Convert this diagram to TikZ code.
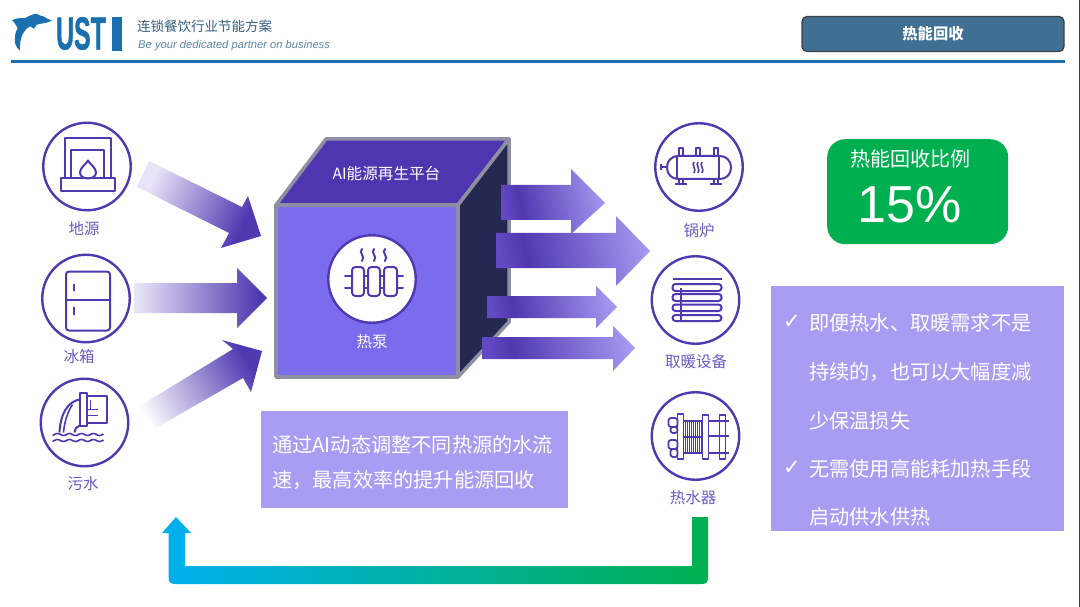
\documentclass[tikz,border=0pt]{standalone}
\usepackage{fontspec}
\setmainfont{Noto Sans CJK SC}
\newfontfamily\latinfont{Liberation Sans}
\newfontfamily\logofont[FakeBold=1.5]{Liberation Sans Bold}
\newfontfamily\symfont{DejaVu Sans}
\usepackage{xcolor}
\usetikzlibrary{calc}
\definecolor{ustblue}{HTML}{1A70AE}
\definecolor{ustslate}{HTML}{3F7094}
\definecolor{cubegray}{HTML}{8E8FA3}
\definecolor{cubetop}{HTML}{5035B0}
\definecolor{cubeside}{HTML}{252850}
\definecolor{cubefront}{HTML}{7B6CEE}
\definecolor{cP}{HTML}{4F38B0}
\definecolor{cLab}{HTML}{6B5BC8}
\definecolor{cBox}{HTML}{A99CF3}
\definecolor{cGreen}{HTML}{00B050}
\definecolor{cSky}{HTML}{00B0F0}
\definecolor{cPale}{HTML}{E8E4F8}
\definecolor{cOutA}{HTML}{6349C2}
\pgfdeclarehorizontalshading{inramp}{100bp}{color(0bp)=(cPale); color(26bp)=(cPale); color(72bp)=(cP); color(100bp)=(cP)}
\pgfdeclarehorizontalshading{inrampw}{100bp}{color(0bp)=(white); color(20bp)=(white); color(74bp)=(cP); color(100bp)=(cP)}
\pgfdeclarehorizontalshading{outramp}{100bp}{color(0bp)=(cOutA); color(24bp)=(cOutA); color(33bp)=(cP); color(78bp)=(cBox); color(100bp)=(cBox)}
\tikzset{
  iconring/.style={circle, draw=cP, line width=2.4pt, fill=white, minimum size=87.5pt, inner sep=0pt},
  iconline/.style={draw=cP, line width=2pt, line join=round},
  iconlab/.style={text=cLab, inner sep=0pt, font=\fontsize{15.5}{18}\selectfont},
  bodytext/.style={text=white, inner sep=0pt, anchor=west, font=\fontsize{20.2}{24}\selectfont},
  panel/.style={fill=cBox, draw=none, inner sep=0pt, anchor=north west}
}
\begin{document}
\begin{tikzpicture}[x=1pt, y=-1pt]
  \useasboundingbox (0,0) rectangle (1080,607);
  \fill[white] (0,0) rectangle (1080,607);
  \draw[black!75, line width=1pt] (1079.5,0) -- (1079.5,607);
  % header
  \fill[ustblue] (12.3,20.3) .. controls (16,17.5) and (21,18.5) .. (25,18) .. controls (29,16) and (33,14) .. (36.7,13.7)
    .. controls (38,14.5) and (39,15.5) .. (43.3,16.3) .. controls (46,18) and (49,19.5) .. (51.7,20.7)
    .. controls (49,22) and (47,22.5) .. (45,23) .. controls (42,23.5) and (39,24) .. (36.7,24.7)
    -- (34,28.7) -- (30,26.3) .. controls (27,28) and (25,30) .. (23.3,33) .. controls (21,36) and (19.5,44) .. (20,50.7)
    .. controls (16,47) and (14,43) .. (15,38) .. controls (15,34) and (16,31) .. (17.7,28) .. controls (16,25) and (14,22) .. (12.3,20.3) -- cycle;
  \node[text=ustblue, inner sep=0pt, anchor=center, font=\logofont\fontsize{46}{46}\selectfont] (logo) at (81,33.5) {\scalebox{.54}[1]{UST}};
  \fill[ustblue] (112,17) rectangle (122,51);
  \node[text=ustslate!85!black, inner sep=0pt, anchor=west, font=\fontsize{13.5}{16}\selectfont] (slogancn) at (137,26) {连锁餐饮行业节能方案};
  \node[text=ustslate!85, inner sep=0pt, anchor=west, font=\latinfont\itshape\fontsize{11.2}{13}\selectfont] (sloganen) at (138,45.5) {Be your dedicated partner on business};
  \fill[ustblue] (11,60) rectangle (1065,63);
  \draw[fill=ustslate, draw=black!75, line width=1.3pt, rounded corners=5pt] (802,16.5) rectangle (1064,51.5);
  \node[text=white, inner sep=0pt, font=\bfseries\fontsize{15.3}{18}\selectfont] (title) at (933,34) {热能回收};

  % arrows into the cube
  \shade[shading=inramp, shading angle=-26]
    (149,161) -- (242,207) -- (248,196) -- (261,236) -- (221,248) -- (229,233) -- (137,187) -- cycle;
  \shade[shading=inramp]
    (134,283) -- (237,283) -- (237,268) -- (267,298) -- (237,328) -- (237,313) -- (134,313) -- cycle;
  \shade[shading=inrampw, shading angle=30]
    (140,406) -- (233,349) -- (222,340) -- (262,351) -- (251,392) -- (243,378) -- (154,429) -- cycle;

  % cube
  \draw[fill=cubetop, draw=cubegray, line width=3.5pt, line join=round] (276,205) -- (326,139) -- (509,139) -- (458,205) -- cycle;
  \draw[fill=cubeside, draw=cubegray, line width=3.5pt, line join=round] (458,205) -- (509,139) -- (509,322) -- (458,377) -- cycle;
  \draw[fill=cubefront, draw=cubegray, line width=3.5pt, line join=round] (276,205) rectangle (458,377);
  \node[text=white, inner sep=0pt, font=\fontsize{15.6}{18}\selectfont] (platform) at (386.5,174) {AI能源再生平台};
  \node[iconring] (pump) at (372,279) {};
  \node[text=white, inner sep=0pt, font=\fontsize{15.5}{18}\selectfont] (pumplab) at (372,342) {热泵};
  \begin{scope}[shift={(pump.center)}]
    \foreach \xa/\xb in {-20/-8, -4/8, 12/25}
      \draw[iconline, rounded corners=3.5pt] (\xa,-12) rectangle (\xb,17);
    \foreach \yy in {-3, 9}{
      \draw[iconline, line cap=round] (-27,\yy) -- (-20,\yy);
      \draw[iconline] (-8,\yy) -- (-4,\yy);
      \draw[iconline] (8,\yy) -- (12,\yy);
      \draw[iconline, line cap=round] (25,\yy) -- (31,\yy);
    }
    \foreach \xx in {-10, 2, 13}
      \draw[iconline, line cap=round] (\xx,-30) .. controls (\xx-4,-26) and (\xx+4,-23) .. (\xx,-18);
  \end{scope}

  % arrows out of the cube
  \foreach \xa/\xb/\xc/\ya/\yb/\yc/\yd/\ye in {
      501/571/605/169/185/220/234/203,
      496/616/650/216/233/268/286/251,
      487/596/617/286/296/318/328/307,
      482/613/635/326/337/359/371/348}{
    \shade[shading=outramp, shading angle=12]
      (\xa,\yb) -- (\xb,\yb) -- (\xb,\ya) -- (\xc,\ye) -- (\xb,\yd) -- (\xb,\yc) -- (\xa,\yc) -- cycle;
  }

  % source and sink rings
  \node[iconring] (geo) at (87,166.5) {};
  \node[iconring] (fridge) at (86,298.5) {};
  \node[iconring] (sewage) at (84.5,422.5) {};
  \node[iconring] (boiler) at (699,167) {};
  \node[iconring] (heater) at (695.5,300) {};
  \node[iconring] (exchanger) at (695.5,436) {};
  \foreach \nm/\xx/\yy/\lab in {geolab/84/229/地源, fridgelab/79/357/冰箱, sewagelab/83/484/污水,
      boilerlab/699/231/锅炉, heaterlab/696/362/取暖设备, exchangerlab/693/498/热水器}
    \node[iconlab] (\nm) at (\xx,\yy) {\lab};

  \begin{scope}[shift={(geo.center)}]
    \draw[iconline] (-22,12) -- (-22,-28) -- (24,-28) -- (24,12);
    \draw[iconline] (-16,12) -- (-16,-16) -- (17,-16) -- (17,12);
    \draw[iconline] (-26,12) rectangle (28,25);
    \draw[iconline] (1,-6) .. controls (3,-2) and (9,1) .. (9,6) .. controls (9,10) and (5,12) .. (1,12)
      .. controls (-3,12) and (-7,10) .. (-7,6) .. controls (-7,1) and (-1,-2) .. (1,-6) -- cycle;
  \end{scope}
  \begin{scope}[shift={(fridge.center)}]
    \draw[iconline, rounded corners=3pt] (-20,-27) rectangle (24,32);
    \draw[iconline] (-20,1) -- (24,1);
    \draw[iconline, line cap=round] (-12,-14) -- (-12,-8);
    \draw[iconline, line cap=round] (-12,9) -- (-12,16);
  \end{scope}
  \begin{scope}[shift={(sewage.center)}]
    \draw[iconline] (2,-27) rectangle (22,0);
    \draw[iconline, fill=white] (-5,-30) rectangle (2,3);
    \draw[iconline, line width=1.6pt] (2,-13) -- (13,-13);
    \draw[iconline, line width=1.6pt] (2,-7) -- (13,-7);
    \draw[iconline, line width=1.6pt] (6,-23) -- (6,-13);
    \draw[iconline] (-5,-23) .. controls (-16,-21) and (-24,-10) .. (-25,10);
    \draw[iconline, line width=1.6pt] (-12,-18) .. controls (-16,-12) and (-20,-2) .. (-21,10);
    \draw[iconline] (-5,3) .. controls (-8,4) and (-10,7) .. (-10,10);
    \foreach \yy in {12, 18}
      \draw[iconline, line width=1.6pt] plot[domain=-32:19, samples=40] (\x,{\yy+1*sin(\x*30)});
  \end{scope}
  \begin{scope}[shift={(boiler.center)}]
    \draw[iconline, rounded corners=11pt] (-32,-11) rectangle (32,12);
    \draw[iconline] (-22,-11) -- (-22,12);
    \draw[iconline] (20,-11) -- (20,12);
    \foreach \xx in {-18, -1, 17}
      \draw[iconline, line width=1.6pt] (\xx-2,-11) -- (\xx-2,-19) -- (\xx+2,-19) -- (\xx+2,-11);
    \foreach \xx in {-18, 17}{
      \draw[iconline, line width=1.6pt] (\xx-2,12) -- (\xx-2,17);
      \draw[iconline, line width=1.6pt] (\xx+2,12) -- (\xx+2,17);
      \draw[iconline] (\xx-6,17) -- (\xx+6,17);
    }
    \draw[iconline] (-38,0) -- (-32,0);
    \draw[iconline] (-38,-3) -- (-38,3);
    \foreach \xx in {-5, -1, 3}
      \draw[iconline, line width=1.6pt] (\xx,-5) .. controls (\xx-3,-2) and (\xx+3,2) .. (\xx,6);
  \end{scope}
  \begin{scope}[shift={(heater.center)}]
    \draw[iconline] (-23,-21) -- (26,-21);
    \foreach \ya/\yb in {-16/-9, -6/1, 4.5/11, 15/21}
      \draw[iconline, rounded corners=3pt] (-23,\ya) rectangle (26,\yb);
    \draw[iconline] (-15,-12) -- (-15,21);
  \end{scope}
  \begin{scope}[shift={(exchanger.center)}]
    \foreach \xx in {-10, -8, ..., 6}
      \draw[cP, line width=.9pt] (\xx,-15) -- (\xx,17);
    \foreach \yy in {-15, 1, 17}
      \draw[iconline, line width=1.4pt] (-12,\yy) -- (7,\yy);
    \foreach \yy in {-15, 0, 17}
      \draw[iconline, line width=1.4pt] (13,\yy) -- (33,\yy);
    \draw[iconline, line width=1.8pt] (-18,-22) rectangle (-12,23);
    \draw[iconline, line width=1.8pt] (7,-21) rectangle (13,23);
    \draw[iconline, line width=1.8pt] (24,-21) rectangle (30,23);
    \draw[iconline, line width=1.8pt, rounded corners=2.5pt] (-27,-18) rectangle (-18,-9);
    \draw[iconline, line width=1.8pt, rounded corners=2.5pt] (-25,-9) rectangle (-18,-3);
    \draw[iconline, line width=1.8pt, rounded corners=2.5pt] (-27,4) rectangle (-18,13);
    \draw[iconline, line width=1.8pt, rounded corners=2.5pt] (-25,13) rectangle (-18,21);
  \end{scope}

  % text panels
  \node[panel, minimum width=307pt, minimum height=97pt] (notebox) at (261,411) {};
  \node[bodytext] (noteone) at (272,445) {通过AI动态调整不同热源的水流};
  \node[bodytext] (notetwo) at (272,480) {速，最高效率的提升能源回收};

  \node[fill=cGreen, rounded corners=18pt, anchor=north west, minimum width=181pt, minimum height=105pt, inner sep=0pt] (ratebox) at (827,139) {};
  \node[text=white, inner sep=0pt, font=\fontsize{20}{24}\selectfont] (ratelab) at (910,159) {热能回收比例};
  \node[text=white, inner sep=0pt, font=\latinfont\fontsize{52}{60}\selectfont] (rateval) at (910,205) {15\%};

  \node[panel, minimum width=293pt, minimum height=245pt] (pointbox) at (771,286) {};
  \foreach \nm/\yy/\txt in {pointa/323/即便热水、取暖需求不是, pointb/372/持续的，也可以大幅度减, pointc/421/少保温损失,
      pointd/469/无需使用高能耗加热手段, pointe/517/启动供水供热}
    \node[bodytext] (\nm) at (809,\yy) {\txt};
  \foreach \nm/\yy in {ticka/322, tickb/468}
    \node[text=white, inner sep=0pt, font=\symfont\fontsize{21}{24}\selectfont] (\nm) at (792,\yy) {✓};

  % return arrow
  \shade[left color=cSky, right color=cGreen]
    (168.5,533) -- (162,533) -- (176,517) -- (191,533) -- (185,533) -- (185,566) -- (692,566) -- (692,517) -- (708,517)
    -- (708,578) .. controls (708,582) and (706,584) .. (702,584) -- (175,584) .. controls (171,584) and (168.5,582) .. (168.5,578) -- cycle;
\end{tikzpicture}
\end{document}
